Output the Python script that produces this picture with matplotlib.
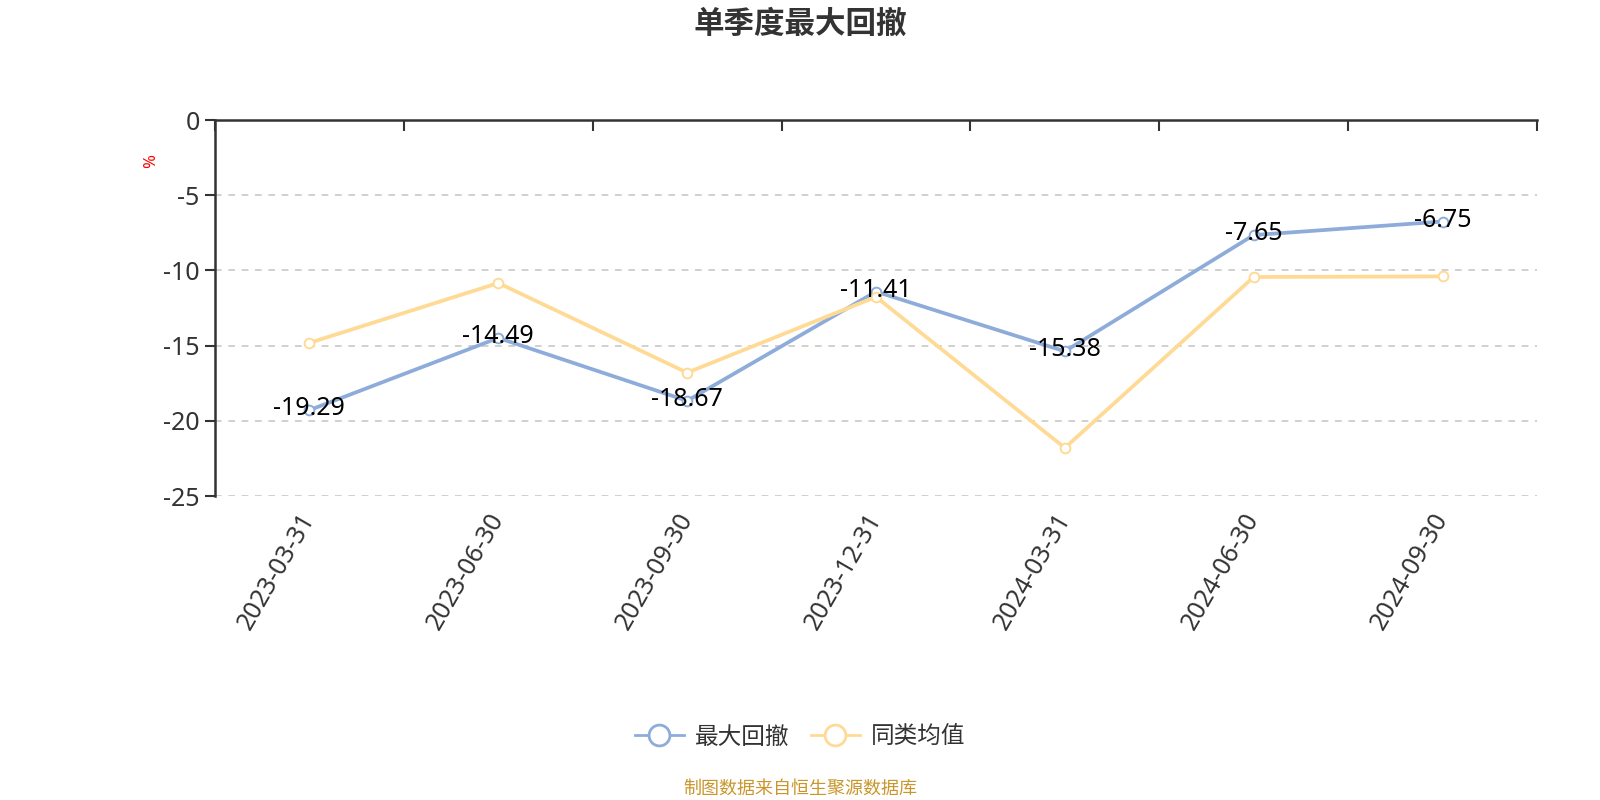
import matplotlib
matplotlib.use("Agg")
import matplotlib.pyplot as plt
from matplotlib.lines import Line2D
from matplotlib.ticker import FixedLocator

plt.rcParams['font.family'] = ['Noto Sans CJK SC', 'DejaVu Sans']
plt.rcParams['axes.unicode_minus'] = False
NUMFONT = ['Noto Sans', 'Noto Sans CJK SC', 'DejaVu Sans']

categories = ["2023-03-31", "2023-06-30", "2023-09-30", "2023-12-31",
              "2024-03-31", "2024-06-30", "2024-09-30"]
max_drawdown = [-19.29, -14.49, -18.67, -11.41, -15.38, -7.65, -6.75]
peer_avg = [-14.82, -10.84, -16.80, -11.76, -21.80, -10.44, -10.40]
y_ticks = [0, -5, -10, -15, -20, -25]
series_names = ["最大回撤", "同类均值"]
title = "单季度最大回撤"
footer = "制图数据来自恒生聚源数据库"
y_unit = "%"

BLUE = "#8EACDA"
YELLOW = "#FFDA95"
TXT = "#333333"

W, H = 1600, 800
fig = plt.figure(figsize=(W / 100, H / 100), dpi=100)
L, R, T, B = 215, 1537, 120, 496
ax = fig.add_axes([L / W, 1 - B / H, (R - L) / W, (B - T) / H])

x = list(range(len(categories)))
ax.plot(x, max_drawdown, color=BLUE, lw=2.7, zorder=3, solid_joinstyle='round',
        marker='o', markersize=7, markerfacecolor='white',
        markeredgecolor=BLUE, markeredgewidth=1.4)
ax.plot(x, peer_avg, color=YELLOW, lw=2.7, zorder=4, solid_joinstyle='round',
        marker='o', markersize=7, markerfacecolor='white',
        markeredgecolor=YELLOW, markeredgewidth=1.4)

for xi, v in zip(x, max_drawdown):
    ax.annotate(f"{v:.2f}", (xi, v), xytext=(0, 1), textcoords='offset points',
                ha='center', va='center', fontsize=18, color='black', zorder=6,
                family=NUMFONT)

ax.set_xlim(-0.5, len(categories) - 0.5)
ax.set_ylim(-25, 0)

ax.set_xticks(x)
ax.set_xticklabels(categories, rotation=60, ha='right', va='center',
                   rotation_mode='anchor', fontsize=18, color=TXT, family=NUMFONT)
ax.xaxis.set_minor_locator(FixedLocator([i - 0.5 for i in range(len(categories) + 1)]))
ax.tick_params(axis='x', which='major', bottom=False, top=False, labelbottom=True, pad=10)
ax.tick_params(axis='x', which='minor', bottom=False, top=True, direction='in',
               length=8, width=1.5, color=TXT)

ax.set_yticks(y_ticks)
ax.set_yticklabels([str(t) for t in y_ticks], fontsize=18, color=TXT, family=NUMFONT)
ax.tick_params(axis='y', which='major', direction='out', length=7, width=1.5,
               color=TXT, pad=4)

ax.grid(axis='y', color='#C8C8C8', linestyle=(0, (4, 4)), linewidth=1.2)
ax.grid(axis='x', visible=False)
ax.set_axisbelow(True)

for s in ['right', 'bottom']:
    ax.spines[s].set_visible(False)
for s in ['top', 'left']:
    ax.spines[s].set_color(TXT)
    ax.spines[s].set_linewidth(1.8)
ax.spines['top'].set_zorder(5)

fig.text(151 / W, 1 - 161 / H, y_unit, color='red', fontsize=12, rotation=90,
         ha='center', va='center', family=NUMFONT)

fig.text(0.5, 1 - 24 / H, title, ha='center', va='center', fontsize=22,
         fontweight='bold', color=TXT)

handles = [Line2D([0], [0], color=c, lw=2, marker='o', markersize=15,
                  markerfacecolor='white', markeredgecolor=c, markeredgewidth=2)
           for c in (BLUE, YELLOW)]
leg = fig.legend(handles, series_names, loc='center', bbox_to_anchor=(0.5, 1 - 737 / H),
                 ncol=2, frameon=False, fontsize=17, handlelength=2.1,
                 handletextpad=0.45, columnspacing=0.9)
for t in leg.get_texts():
    t.set_color(TXT)

fig.text(0.5, 1 - 789 / H, footer, ha='center', va='center', fontsize=13,
         color='#C9962B')

fig.savefig("out.png", dpi=100)
